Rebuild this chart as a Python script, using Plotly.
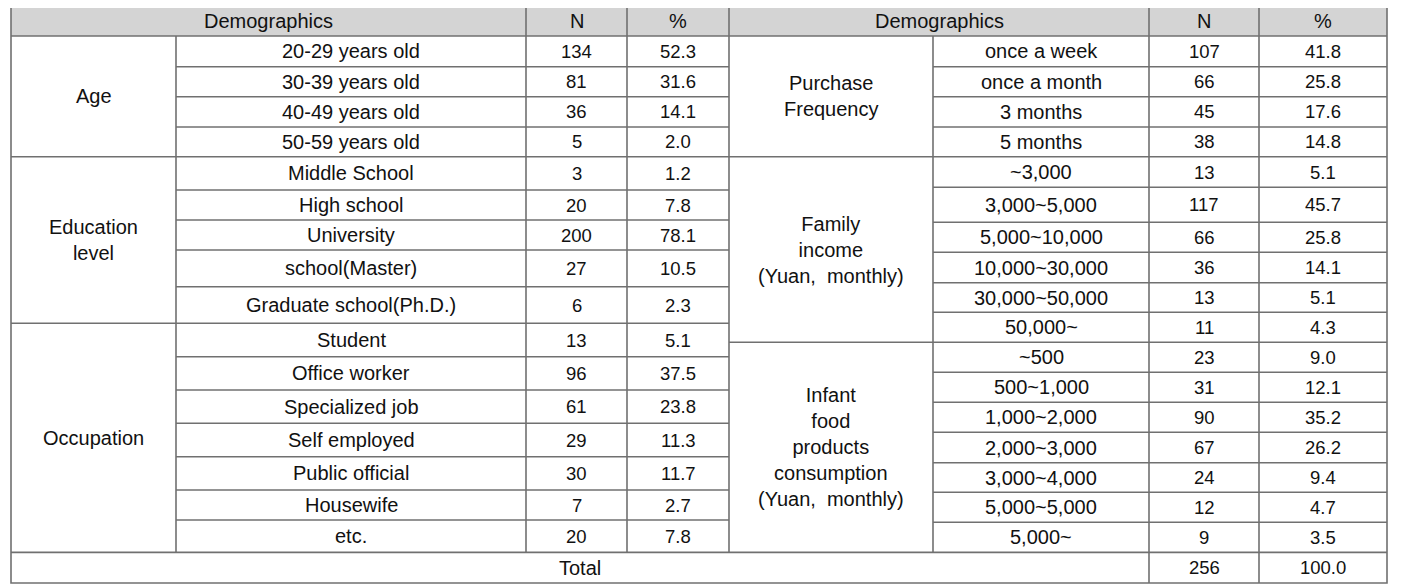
import plotly.graph_objects as go

# ---------------- data ----------------
header_left = ["Demographics", "N", "%"]
header_right = ["Demographics", "N", "%"]

age_items = ["20-29 years old", "30-39 years old", "40-49 years old", "50-59 years old"]
age_n = [134, 81, 36, 5]
age_pct = [52.3, 31.6, 14.1, 2.0]

edu_items = ["Middle School", "High school", "University", "school(Master)", "Graduate school(Ph.D.)"]
edu_n = [3, 20, 200, 27, 6]
edu_pct = [1.2, 7.8, 78.1, 10.5, 2.3]

occ_items = ["Student", "Office worker", "Specialized job", "Self employed",
             "Public official", "Housewife", "etc."]
occ_n = [13, 96, 61, 29, 30, 7, 20]
occ_pct = [5.1, 37.5, 23.8, 11.3, 11.7, 2.7, 7.8]

freq_items = ["once a week", "once a month", "3 months", "5 months"]
freq_n = [107, 66, 45, 38]
freq_pct = [41.8, 25.8, 17.6, 14.8]

inc_items = ["~3,000", "3,000~5,000", "5,000~10,000", "10,000~30,000", "30,000~50,000", "50,000~"]
inc_n = [13, 117, 66, 36, 13, 11]
inc_pct = [5.1, 45.7, 25.8, 14.1, 5.1, 4.3]

food_items = ["~500", "500~1,000", "1,000~2,000", "2,000~3,000", "3,000~4,000", "5,000~5,000", "5,000~"]
food_n = [23, 31, 90, 67, 24, 12, 9]
food_pct = [9.0, 12.1, 35.2, 26.2, 9.4, 4.7, 3.5]

left_groups = ["Age", "Education<br>level", "Occupation"]
right_groups = ["Purchase<br>Frequency", "Family<br>income<br>(Yuan,  monthly)",
                "Infant<br>food<br>products<br>consumption<br>(Yuan,  monthly)"]

total_label = "Total"
total_n = 256
total_pct = 100.0

# ---------------- layout geometry (page pixels) ----------------
W, H = 1407, 586
OFF = 8  # default page body margin
TOP, HEAD_B, TOT_T, BOT = 6, 36, 552.4, 583
LX = [11, 176, 526, 627, 729]
RX = [729, 933, 1149, 1259, 1387]
left_rows = [36, 66.7, 96.7, 127, 156.7, 190, 220, 250, 286.7, 323.3,
             356.7, 390, 423.3, 456.7, 490, 520, 552.4]
right_rows = [36, 66.7, 96.7, 127, 156.7, 187.3, 222.3, 252.3, 282.7, 312.3,
              342.3, 372.3, 402.3, 432.3, 462.7, 492.3, 522.3, 552.4]

LINE = dict(color="#707070", width=1.6)
TXT = dict(family="Liberation Sans, Arial, sans-serif", size=20, color="#111111")
NUM = dict(family="Liberation Sans, Arial, sans-serif", size=18.5, color="#111111")

fig = go.Figure()
fig.add_trace(go.Scatter(x=[OFF, W], y=[OFF, H], mode="markers",
                         marker=dict(opacity=0), hoverinfo="skip", showlegend=False))

shapes = []
annots = []

def hline(x0, x1, y):
    shapes.append(dict(type="line", xref="x", yref="y", x0=x0, x1=x1, y0=y, y1=y, line=LINE))

def vline(x, y0, y1):
    shapes.append(dict(type="line", xref="x", yref="y", x0=x, x1=x, y0=y0, y1=y1, line=LINE))

def text(x, y, s, font):
    annots.append(dict(x=x, y=y, xref="x", yref="y", text=s, showarrow=False,
                       xanchor="center", yanchor="middle", font=font, align="center"))

# header background
shapes.append(dict(type="rect", xref="x", yref="y", x0=LX[0], x1=RX[-1], y0=TOP, y1=HEAD_B,
                   fillcolor="#d4d4d4", line=dict(width=0), layer="below"))

# header texts
hy = (TOP + HEAD_B) / 2
text((LX[0] + LX[2]) / 2, hy, header_left[0], TXT)
text((LX[2] + LX[3]) / 2, hy, header_left[1], TXT)
text((LX[3] + LX[4]) / 2, hy, header_left[2], TXT)
text((RX[0] + RX[2]) / 2, hy, header_right[0], TXT)
text((RX[2] + RX[3]) / 2, hy, header_right[1], TXT)
text((RX[3] + RX[4]) / 2, hy, header_right[2], TXT)

def fill_side(X, rows, groups, blocks):
    idx = 0
    for g, (items, ns, ps) in zip(groups, blocks):
        start = idx
        for it, n, p in zip(items, ns, ps):
            y0, y1 = rows[idx], rows[idx + 1]
            yc = (y0 + y1) / 2
            text((X[1] + X[2]) / 2, yc, it, TXT)
            text((X[2] + X[3]) / 2, yc, str(n), NUM)
            text((X[3] + X[4]) / 2, yc, f"{p:.1f}", NUM)
            idx += 1
        g_y0, g_y1 = rows[start], rows[idx]
        text((X[0] + X[1]) / 2, (g_y0 + g_y1) / 2, g, TXT)
        for k in range(start + 1, idx):
            hline(X[1], X[4], rows[k])
        if idx < len(rows) - 1:
            hline(X[0], X[4], rows[idx])
    vline(X[1], rows[0], rows[-1])

fill_side(LX, left_rows, left_groups,
          [(age_items, age_n, age_pct), (edu_items, edu_n, edu_pct), (occ_items, occ_n, occ_pct)])
fill_side(RX, right_rows, right_groups,
          [(freq_items, freq_n, freq_pct), (inc_items, inc_n, inc_pct), (food_items, food_n, food_pct)])

for x in [LX[2], LX[3], LX[4], RX[2], RX[3]]:
    vline(x, TOP, TOT_T)
for x in [RX[2], RX[3]]:
    vline(x, TOT_T, BOT)

hline(LX[0], RX[-1], HEAD_B)
hline(LX[0], RX[-1], TOT_T)
shapes.append(dict(type="rect", xref="x", yref="y", x0=LX[0], x1=RX[-1], y0=TOP, y1=BOT,
                   line=LINE, fillcolor="rgba(0,0,0,0)"))

ty = (TOT_T + BOT) / 2
text((LX[0] + RX[2]) / 2, ty, total_label, TXT)
text((RX[2] + RX[3]) / 2, ty, str(total_n), NUM)
text((RX[3] + RX[4]) / 2, ty, f"{total_pct:.1f}", NUM)

fig.update_layout(
    width=W - OFF, height=H - OFF,
    margin=dict(l=0, r=0, t=0, b=0),
    paper_bgcolor="white", plot_bgcolor="white",
    xaxis=dict(range=[OFF, W], visible=False, fixedrange=True),
    yaxis=dict(range=[H, OFF], visible=False, fixedrange=True),
    shapes=shapes, annotations=annots, showlegend=False,
)

fig.write_html("out.html", config={"displayModeBar": False})
